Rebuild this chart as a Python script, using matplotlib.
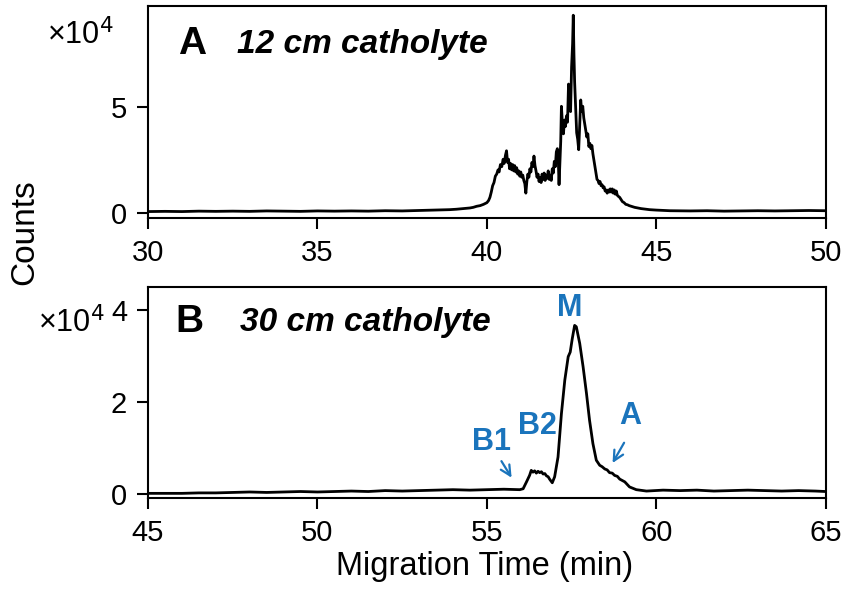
import matplotlib
matplotlib.use("Agg")
import matplotlib.pyplot as plt

plt.rcParams['font.family'] = ['Liberation Sans', 'DejaVu Sans']

# panel A: 12 cm catholyte (counts in units of 1e4)
time_a = [30.0, 30.5, 31.0, 31.5, 32.0, 32.5, 33.0, 33.5, 34.0, 34.5, 35.0, 35.5,
          36.0, 36.5, 37.0, 37.5, 38.0, 38.3, 38.6, 38.9, 39.1, 39.3, 39.5, 39.6,
          39.7, 39.8, 39.9,
          40.0, 40.05, 40.09, 40.13, 40.17, 40.21, 40.25, 40.29, 40.33, 40.36,
          40.40, 40.44, 40.48, 40.51, 40.55, 40.58, 40.61, 40.64, 40.67, 40.70,
          40.73, 40.76, 40.79, 40.82, 40.85, 40.88, 40.91, 40.94, 40.97, 41.00,
          41.03, 41.06, 41.09, 41.12, 41.15, 41.18, 41.21, 41.24, 41.27, 41.30,
          41.33, 41.36, 41.39, 41.42, 41.45, 41.48, 41.51, 41.54, 41.57, 41.60,
          41.63, 41.66, 41.69, 41.72, 41.75, 41.78, 41.81, 41.84, 41.87, 41.90,
          41.93, 41.96, 41.99, 42.02, 42.05, 42.08, 42.11, 42.13, 42.15, 42.18,
          42.20, 42.23, 42.26, 42.29, 42.32, 42.35, 42.38, 42.41, 42.44, 42.47,
          42.50, 42.53, 42.55, 42.57, 42.59, 42.62, 42.65, 42.68, 42.71, 42.74,
          42.77, 42.80, 42.83, 42.86, 42.89, 42.92, 42.95, 42.98, 43.01, 43.04,
          43.07, 43.10, 43.13, 43.16, 43.19, 43.22, 43.25, 43.28, 43.31, 43.34,
          43.37, 43.40, 43.43, 43.46, 43.49, 43.52, 43.55, 43.58, 43.61, 43.64,
          43.67, 43.70, 43.73, 43.76, 43.79, 43.82, 43.85, 43.88, 43.92, 43.96,
          44.00, 44.05, 44.10, 44.15, 44.20, 44.28, 44.36, 44.45, 44.55, 44.65,
          44.8, 45.0, 45.4, 46.0, 46.5, 47.0, 47.5, 48.0, 48.5, 49.0, 49.5, 50.0]
counts_a = [0.08, 0.09, 0.08, 0.10, 0.09, 0.10, 0.09, 0.11, 0.10, 0.09, 0.11, 0.10,
            0.11, 0.10, 0.12, 0.11, 0.13, 0.14, 0.15, 0.17, 0.19, 0.22, 0.25, 0.28,
            0.33, 0.36, 0.42,
            0.50, 0.60, 0.75, 1.00, 1.30, 1.45, 1.75, 1.85, 2.05, 1.95,
            2.30, 2.20, 2.55, 2.35, 2.75, 2.95, 2.40, 2.55, 2.10, 2.35,
            2.05, 2.30, 2.00, 2.25, 1.95, 2.15, 1.85, 2.00, 1.75, 1.95,
            1.70, 1.80, 1.55, 1.40, 0.95, 1.50, 1.85, 1.70, 2.10, 1.95,
            2.40, 2.20, 2.70, 2.25, 2.00, 1.70, 1.85, 1.50, 1.70, 1.45,
            1.85, 1.60, 1.90, 1.55, 1.80, 1.65, 2.00, 1.60, 1.80, 1.55,
            2.10, 1.90, 2.45, 2.20, 2.90, 3.05, 2.40, 1.35, 2.20, 3.40,
            5.05, 4.20, 3.75, 4.40, 4.10, 4.60, 4.30, 6.10, 5.00, 4.80,
            6.90, 8.00, 9.35, 7.50, 6.20, 5.00, 3.80, 3.50, 3.00, 4.20,
            5.35, 4.80, 5.05, 4.50, 4.20, 3.90, 3.60, 3.75, 3.15, 3.30,
            3.05, 3.20, 2.80, 2.50, 2.20, 1.90, 1.60, 1.55, 1.40, 1.50,
            1.30, 1.35, 1.20, 1.25, 1.05, 1.10, 0.95, 1.10, 1.00, 1.15,
            1.00, 1.15, 0.95, 1.10, 0.90, 1.05, 0.85, 0.80, 0.75, 0.65,
            0.55, 0.50, 0.42, 0.40, 0.36, 0.32, 0.28, 0.25, 0.22, 0.20,
            0.17, 0.15, 0.12, 0.11, 0.12, 0.10, 0.11, 0.12, 0.11, 0.12, 0.13, 0.12]

# panel B: 30 cm catholyte
time_b = [45.0, 45.5, 46.0, 46.5, 47.0, 47.5, 48.0, 48.5, 49.0, 49.5, 50.0, 50.5,
          51.0, 51.5, 52.0, 52.5, 53.0, 53.5, 54.0, 54.5, 55.0, 55.5, 55.97,
          56.07, 56.17, 56.26, 56.31, 56.36, 56.41, 56.46, 56.51, 56.56, 56.61,
          56.66, 56.71, 56.76, 56.81, 56.85, 56.93,
          57.0, 57.1, 57.2, 57.3, 57.4, 57.46, 57.52, 57.59, 57.64, 57.74, 57.84,
          57.94, 58.03, 58.13, 58.23, 58.33, 58.40, 58.48, 58.55, 58.62, 58.70,
          58.77, 58.85, 58.92, 59.07, 59.21, 59.41, 59.71, 60.2, 60.7, 61.2,
          61.7, 62.2, 62.7, 63.2, 63.7, 64.2, 64.7, 65.0]
counts_b = [0.02, 0.02, 0.02, 0.03, 0.03, 0.04, 0.05, 0.04, 0.05, 0.06, 0.05, 0.06,
            0.07, 0.06, 0.08, 0.07, 0.08, 0.09, 0.10, 0.09, 0.10, 0.11, 0.10,
            0.12, 0.27, 0.41, 0.52, 0.48, 0.51, 0.46, 0.50, 0.47, 0.49,
            0.44, 0.45, 0.40, 0.38, 0.33, 0.25,
            0.38, 0.81, 1.75, 2.48, 2.99, 3.09, 3.38, 3.67, 3.64, 3.28, 2.77,
            2.19, 1.61, 1.10, 0.74, 0.63, 0.60, 0.55, 0.53, 0.47, 0.46,
            0.41, 0.39, 0.33, 0.27, 0.16, 0.10, 0.07, 0.09, 0.08, 0.09,
            0.07, 0.08, 0.09, 0.08, 0.07, 0.08, 0.07, 0.06]

peak_labels = ['B1', 'B2', 'M', 'A']
label_x = [55.13, 56.48, 57.43, 59.23]
label_y = [1.14, 1.48, 4.04, 1.70]

blue = '#1a74bc'

fig = plt.figure(figsize=(8.46, 5.9), dpi=100)
ax1 = fig.add_axes([0.175, 0.631, 0.801, 0.359])
ax2 = fig.add_axes([0.175, 0.156, 0.801, 0.358])

ax1.plot(time_a, counts_a, color='black', lw=2.0)
ax2.plot(time_b, counts_b, color='black', lw=2.0)

ax1.set_xlim(30, 50)
ax1.set_ylim(-0.21, 9.79)
ax1.set_xticks([30, 35, 40, 45, 50])
ax1.set_yticks([0, 5])

ax2.set_xlim(45, 65)
ax2.set_ylim(-0.08, 4.51)
ax2.set_xticks([45, 50, 55, 60, 65])
ax2.set_yticks([0, 2, 4])

for ax in (ax1, ax2):
    for s in ax.spines.values():
        s.set_linewidth(1.5)
    ax.tick_params(direction='out', length=8, width=1.5, labelsize=21)
    ax.tick_params(axis='x', pad=7)
    ax.tick_params(axis='y', pad=7)

ax1.text(0.044, 0.82, 'A', transform=ax1.transAxes, fontsize=28,
         fontweight='bold', va='center')
ax1.text(0.131, 0.82, '12 cm catholyte', transform=ax1.transAxes, fontsize=24,
         fontweight='bold', style='italic', va='center')
ax2.text(0.040, 0.833, 'B', transform=ax2.transAxes, fontsize=28,
         fontweight='bold', va='center')
ax2.text(0.136, 0.833, '30 cm catholyte', transform=ax2.transAxes, fontsize=24,
         fontweight='bold', style='italic', va='center')

for lab, x, y in zip(peak_labels, label_x, label_y):
    ax2.text(x, y, lab, color=blue, fontsize=22, fontweight='bold',
             ha='center', va='center')

ax2.annotate('', xy=(55.73, 0.36), xytext=(55.43, 0.72),
             arrowprops=dict(arrowstyle='->', color=blue, lw=1.6,
                             mutation_scale=18, shrinkA=0, shrinkB=0))
ax2.annotate('', xy=(58.71, 0.68), xytext=(59.05, 1.12),
             arrowprops=dict(arrowstyle='->', color=blue, lw=1.6,
                             mutation_scale=18, shrinkA=0, shrinkB=0))

fig.text(113 / 846, 1 - 35 / 590, '×10$^4$', fontsize=22, ha='right', va='center')
fig.text(104 / 846, 1 - 323 / 590, '×10$^4$', fontsize=22, ha='right', va='center')
fig.text(25 / 846, 1 - 232 / 590, 'Counts', fontsize=24, rotation=90,
         ha='center', va='center')
fig.text(485 / 846, 1 - 566 / 590, 'Migration Time (min)', fontsize=23.5,
         ha='center', va='center')

fig.savefig('out.png', dpi=100)
